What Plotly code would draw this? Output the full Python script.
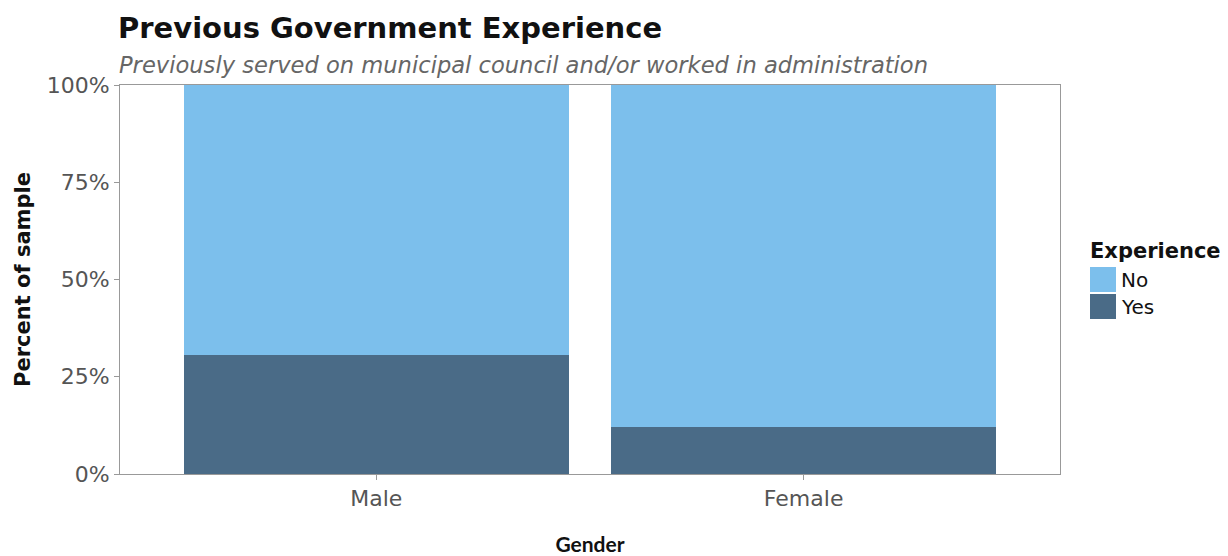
import plotly.graph_objects as go

genders = ["Male", "Female"]
no_pct = [69.5, 87.8]
yes_pct = [30.5, 12.2]
y_ticks = [0, 25, 50, 75, 100]
y_tick_labels = ["0%", "25%", "50%", "75%", "100%"]
legend_title = "Experience"
legend_names = ["No", "Yes"]
legend_colors = ["#7CBFEC", "#4A6B87"]

# The page body has an 8px margin, so the figure is drawn 8px smaller and
# every layout position below is given in the reference's pixel space.
OFF = 8
W, H = 1228 - OFF, 556 - OFF
L, R, T, B = 120, 1060, 85, 474
DJ = "'DejaVu Sans', sans-serif"
LATO = "Lato, sans-serif"


def px(x):
    return (x - L) / (R - L)


def py(y):
    return (B - y) / (B - T)


fig = go.Figure()
fig.add_trace(go.Bar(x=genders, y=yes_pct, name=legend_names[1],
                     marker=dict(color=legend_colors[1], line=dict(width=0))))
fig.add_trace(go.Bar(x=genders, y=no_pct, name=legend_names[0],
                     marker=dict(color=legend_colors[0], line=dict(width=0))))

shapes = []
annotations = [
    dict(text="<b>Previous Government Experience</b>", xref="paper", yref="paper",
         x=px(116), y=py(28), xanchor="left", yanchor="middle", showarrow=False,
         font=dict(size=29, color="#111111", family=DJ)),
    dict(text="<i>Previously served on municipal council and/or worked in administration</i>",
         xref="paper", yref="paper", x=px(117), y=py(65), xanchor="left", yanchor="middle",
         showarrow=False, font=dict(size=22.6, color="#666666", family=DJ)),
    dict(text="<b>" + legend_title + "</b>", xref="paper", yref="paper",
         x=px(1088), y=py(251), xanchor="left", yanchor="middle", showarrow=False,
         font=dict(size=21, color="#111111", family=DJ)),
]
key_tops = [267, 294]
for name, col, top in zip(legend_names, legend_colors, key_tops):
    shapes.append(dict(type="rect", xref="paper", yref="paper", x0=px(1090), x1=px(1116),
                       y0=py(top + 25), y1=py(top), fillcolor=col, line=dict(width=0)))
    annotations.append(dict(text=name, xref="paper", yref="paper", x=px(1119), y=py(top + 13),
                            xanchor="left", yanchor="middle", showarrow=False,
                            font=dict(size=20, color="#111111", family=DJ)))

fig.update_layout(
    width=W, height=H,
    barmode="stack", bargap=0.1, showlegend=False,
    plot_bgcolor="white", paper_bgcolor="white",
    margin=dict(l=L - OFF, r=1228 - R, t=T - OFF, b=556 - B, autoexpand=False),
    font=dict(family=DJ, color="#555555"),
    shapes=shapes, annotations=annotations,
)
fig.update_xaxes(range=[-0.6, 1.6], showline=True, linecolor="#999999", linewidth=1, mirror=True,
                 automargin=False, ticks="outside", tickcolor="#999999", ticklen=5,
                 tickfont=dict(size=22, color="#555555", family=DJ),
                 title=dict(text="<b>Gender</b>", font=dict(size=21, color="#111111", family=LATO),
                            standoff=30))
fig.update_yaxes(range=[0, 100], tickvals=y_ticks, ticktext=y_tick_labels, showgrid=False, zeroline=False,
                 showline=True, linecolor="#999999", linewidth=1, mirror=True, automargin=False,
                 ticks="outside", tickcolor="#999999", ticklen=5,
                 tickfont=dict(size=22, color="#555555", family=DJ),
                 title=dict(text="<b>Percent of sample</b>", font=dict(size=21, color="#111111", family=DJ),
                            standoff=10))
fig.write_html("out.html")
